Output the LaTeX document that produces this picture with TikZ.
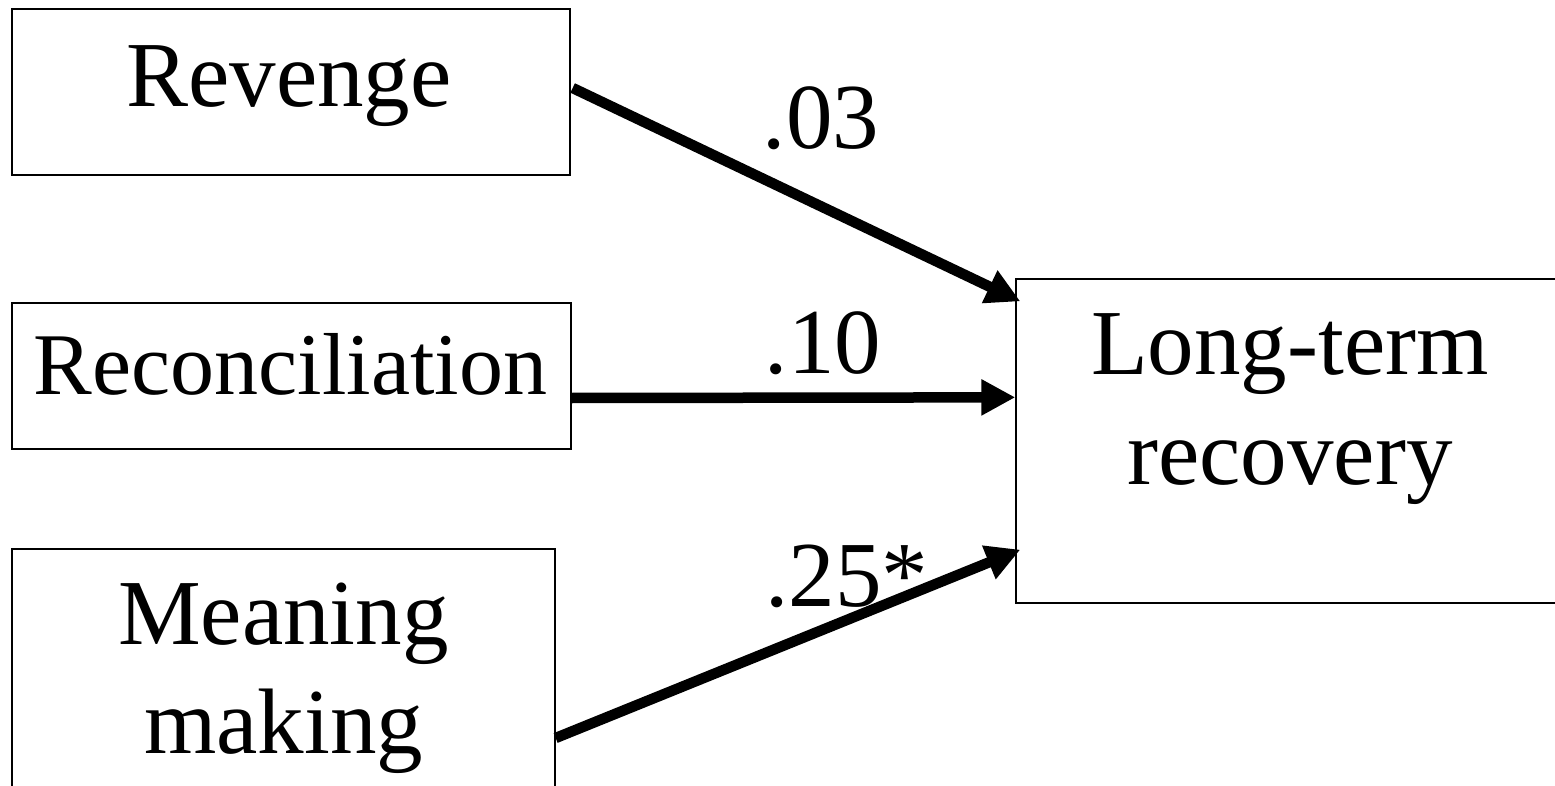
\documentclass[tikz,border=0pt]{standalone}
\usepackage{fontspec}
\setmainfont{Liberation Serif}
\usetikzlibrary{arrows.meta,calc}
\begin{document}
\begin{tikzpicture}[x=1pt,y=-1pt,
  box/.style={draw=black,line width=1.3pt,inner sep=0pt,fill=none},
  txt/.style={font=\fontsize{93}{110}\selectfont,inner sep=0pt,anchor=base},
  arr/.style={line width=10.5pt,-{Triangle[length=34pt,width=34pt]}}]
\useasboundingbox (0,0) rectangle (1555,786);
\clip (0,0) rectangle (1555,786);
% boxes
\node[box,minimum width=558pt,minimum height=166pt] (rev) at (291,92) {};
\node[box,minimum width=559pt,minimum height=146pt] (rec) at (291.5,376) {};
\node[box,minimum width=543pt,minimum height=271pt] (mea) at (283.5,684.5) {};
\node[box,minimum width=548pt,minimum height=324pt] (long) at (1290,441) {};
% texts
\node[txt] (revt) at (289,107) {Revenge};
\node[txt,font=\fontsize{88}{104}\selectfont] (rect) at (290.5,394) {Reconciliation};
\node[txt] (meat1) at (283.5,644) {Meaning};
\node[txt] (meat2) at (283.5,753) {making};
\node[txt] (longt1) at (1290,374) {Long-term};
\node[txt] (longt2) at (1290,484) {recovery};
% arrows
\draw[arr] ($(rev.east)+(2,-4)$) -- ($(long.north west)+(5,23)$);
\draw[arr] ($(rec.east)+(0,22)$) -- ($(long.north west)+(0,119)$);
\draw[arr] ($(mea.east)+(0,53.5)$) -- ($(long.south west)+(5,-54)$);
% labels
\node[txt] (l1) at (821,149) {.03};
\node[txt] (l2) at (823,373) {.10};
\node[txt] (l3) at (847,606) {.25*};
\end{tikzpicture}
\end{document}
